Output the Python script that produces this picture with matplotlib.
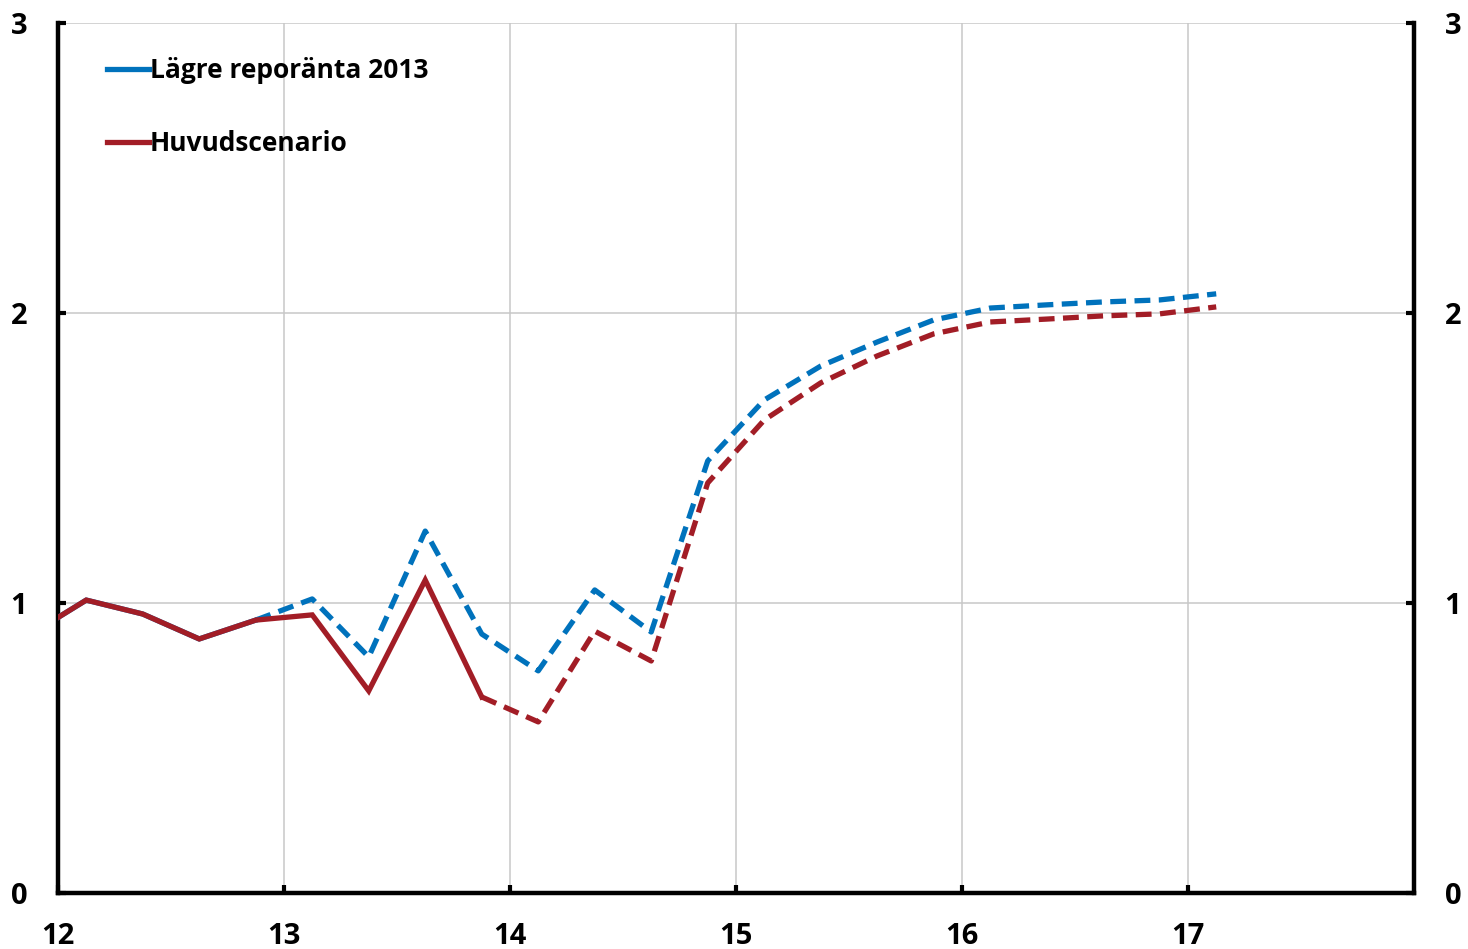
"""
plot.py - Reporänta: lägre reporänta 2013 vs huvudscenario.
"""

import matplotlib

matplotlib.use("Agg")
import matplotlib.pyplot as plt
from matplotlib.lines import Line2D

# Quarter midpoints (year 2000 offset), Q4 2011 .. Q1 2017
QUARTERS = [11.875 + 0.25 * i for i in range(22)]

# Huvudscenario: outcome up to 13.875, forecast after
RED_HIST = [0.89, 1.01, 0.962, 0.876, 0.941, 0.959, 0.697, 1.079, 0.676]
RED_FCST = [0.676, 0.59, 0.903, 0.80, 1.414, 1.631, 1.759, 1.852, 1.928,
            1.969, 1.979, 1.99, 1.997, 2.021]

# Lägre reporänta 2013: same history to 12.875, then alternative path
BLUE_HIST = [0.89, 1.01, 0.962, 0.876, 0.941]
BLUE_FCST = [0.941, 1.014, 0.814, 1.248, 0.893, 0.766, 1.045, 0.90, 1.49,
             1.70, 1.817, 1.90, 1.976, 2.017, 2.028, 2.038, 2.045, 2.066]

LABELS = ["Lägre reporänta 2013", "Huvudscenario"]
X_TICKS = [12, 13, 14, 15, 16, 17]
Y_TICKS = [0, 1, 2, 3]

BLUE = "#0072BC"
RED = "#A21D26"


def main() -> None:
    plt.rcParams["font.family"] = ["Open Sans", "DejaVu Sans"]
    plt.rcParams["font.weight"] = "bold"

    fig = plt.figure(figsize=(14.68, 9.49), dpi=100)
    ax = fig.add_axes([0.0395, 0.059, 0.9237, 0.9168])

    lw = 3.8
    dash = (3.0, 1.6)

    n_bh = len(BLUE_HIST)
    n_rh = len(RED_HIST)

    ax.plot(QUARTERS[:n_bh], BLUE_HIST, color=BLUE, lw=lw, zorder=3)
    ax.plot(QUARTERS[n_bh - 1:], BLUE_FCST, color=BLUE, lw=lw,
            dashes=dash, zorder=3)
    ax.plot(QUARTERS[:n_rh], RED_HIST, color=RED, lw=lw, zorder=4,
            solid_joinstyle="miter")
    ax.plot(QUARTERS[n_rh - 1:n_rh - 1 + len(RED_FCST)], RED_FCST,
            color=RED, lw=lw, dashes=dash, zorder=4)

    ax.set_xlim(12, 18)
    ax.set_ylim(0, 3)
    ax.set_xticks(X_TICKS)
    ax.set_yticks(Y_TICKS)
    ax.set_xticklabels([str(t) for t in X_TICKS], fontweight="bold")
    ax.set_yticklabels([str(t) for t in Y_TICKS], fontweight="bold")

    ax.grid(True, color="#c8c8c8", lw=1.1, zorder=0)
    ax.set_axisbelow(True)

    for side in ["left", "bottom", "right"]:
        ax.spines[side].set_linewidth(3.2)
    ax.spines["top"].set_visible(False)

    ax.tick_params(axis="both", direction="in", length=6, width=3,
                   labelsize=21)
    ax.tick_params(axis="y", left=True, right=True, labelleft=True,
                   labelright=True, pad=22)
    ax.tick_params(axis="x", pad=21)
    for t in ax.yaxis.get_major_ticks():
        t.label2.set_fontweight("bold")

    handles = [Line2D([], [], color=BLUE, lw=lw),
               Line2D([], [], color=RED, lw=lw)]
    ax.legend(handles, LABELS, loc="upper left", bbox_to_anchor=(0.028, 0.973),
              frameon=False, prop={"size": 19, "weight": "bold"},
              handlelength=1.6, handletextpad=0.05, labelspacing=1.75,
              borderaxespad=0)

    fig.savefig("out.png", dpi=100)
    plt.close(fig)


if __name__ == "__main__":
    main()
